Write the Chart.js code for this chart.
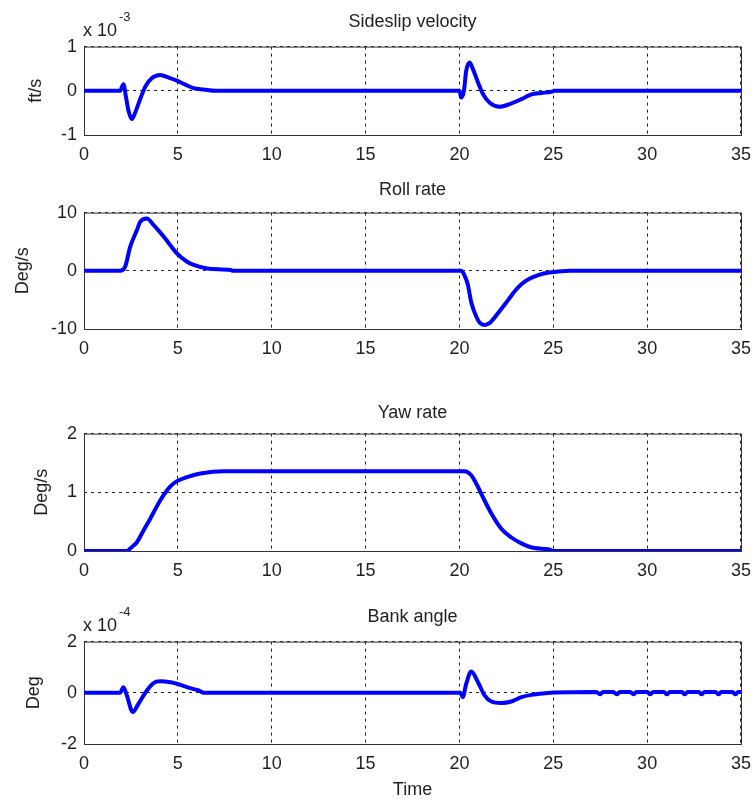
<!DOCTYPE html>
<html>
<head>
<meta charset="utf-8">
<script src="https://cdn.jsdelivr.net/npm/chart.js@4.4.1/dist/chart.umd.min.js"></script>
<style>
  html, body { margin: 0; padding: 0; background: #fff; }
  #page { position: relative; width: 756px; height: 803px; overflow: hidden; }
  #page canvas { position: absolute; left: 0; }
</style>
</head>
<body>
<div id="page">
  <canvas id="sideslipChart" width="760" height="170" style="top:0px"></canvas>
  <canvas id="rollChart" width="760" height="190" style="top:170px"></canvas>
  <canvas id="yawChart" width="760" height="221" style="top:360px"></canvas>
  <canvas id="bankChart" width="760" height="222" style="top:581px"></canvas>
</div>
<script>
// x axis (shared)
const timeTicks = [0, 5, 10, 15, 20, 25, 30, 35];

// Sideslip velocity, ft/s (x 10^-3)
const sideslipTime = [0, 1.92, 2.1, 2.24, 2.37, 2.55, 2.73, 2.99, 3.26, 3.62, 4.06, 4.51, 4.95, 5.4, 5.83, 6.38, 7.0,
  20.0, 20.1, 20.24, 20.36, 20.54, 20.72, 20.99, 21.26, 21.61, 22.14, 22.68, 23.3, 23.84, 24.37, 24.9, 25.08, 35];
const sideslipValue = [0, 0, 0.15, -0.15, -0.45, -0.64, -0.49, -0.19, 0.09, 0.29, 0.36, 0.3, 0.23, 0.14, 0.06, 0.03, 0,
  0, -0.15, 0, 0.45, 0.64, 0.49, 0.19, -0.08, -0.27, -0.36, -0.3, -0.19, -0.08, -0.05, -0.02, 0, 0];

// Roll rate, Deg/s
const rollTime = [0, 1.92, 2.19, 2.46, 2.82, 2.99, 3.35, 3.7, 4.24, 4.95, 5.49, 5.84, 6.56, 7.8, 7.95,
  20.1, 20.3, 20.45, 20.63, 20.9, 21.1, 21.35, 21.6, 22.05, 22.6, 23.0, 23.3, 23.7, 24.2, 24.7, 25.2, 25.9, 35];
const rollValue = [0, 0, 0.7, 4.1, 7.0, 8.4, 9.0, 7.9, 5.9, 3.0, 1.55, 1.0, 0.4, 0.15, 0,
  0, -1.0, -2.4, -5.4, -7.9, -9.0, -9.3, -9.0, -7.3, -5.0, -3.3, -2.3, -1.4, -0.75, -0.35, -0.15, 0, 0];

// Yaw rate, Deg/s
const yawTime = [0, 2.28, 2.55, 2.82, 3.17, 3.53, 3.88, 4.24, 4.6, 4.95, 5.49, 6.2, 7.45,
  20.27, 20.63, 20.99, 21.34, 21.7, 22.23, 22.77, 23.3, 24.0, 24.73, 25.0, 35];
const yawValue = [0, 0, 0.07, 0.15, 0.35, 0.55, 0.76, 0.95, 1.1, 1.19, 1.26, 1.32, 1.36,
  1.36, 1.29, 1.09, 0.86, 0.64, 0.38, 0.23, 0.13, 0.05, 0.03, 0, 0];

// Bank angle, Deg (x 10^-4)
const bankTime = [0, 1.92, 2.1, 2.28, 2.6, 2.9, 3.35, 3.7, 4.06, 4.6, 5.13, 5.67, 6.11, 6.38,
  20.05, 20.18, 20.36, 20.63, 20.99, 21.34, 21.7, 22.23, 22.77, 23.3, 23.84, 24.55, 25.08,
  27.3, 27.49, 27.65, 28.2, 28.38, 28.54, 29.1, 29.27, 29.43, 30.0, 30.16, 30.32,
  30.9, 31.05, 31.2, 31.85, 32.0, 32.15, 32.75, 32.9, 33.05, 33.65, 33.8, 33.95, 34.55, 34.7, 34.85, 35];
const bankValue = [0, 0, 0.22, -0.1, -0.75, -0.43, 0.09, 0.38, 0.45, 0.41, 0.31, 0.18, 0.09, 0,
  0, -0.17, 0.35, 0.83, 0.41, -0.1, -0.34, -0.4, -0.34, -0.17, -0.08, -0.02, 0.01,
  0.03, -0.06, 0.03, 0.03, -0.06, 0.03, 0.03, -0.06, 0.03, 0.03, -0.06, 0.03,
  0.03, -0.06, 0.03, 0.03, -0.06, 0.03, 0.03, -0.06, 0.03, 0.03, -0.06, 0.03, 0.03, -0.06, 0.03, 0.03];

const LINE_BLUE = "#0000ff";
const TEXT = "#1f1f1f";
const FONT = "'Liberation Sans', Arial, sans-serif";

// box round the plot area, like MATLAB axes
const framePlugin = {
  id: "frame",
  beforeDatasetsDraw(chart) {
    const { ctx, chartArea: a } = chart;
    ctx.save();
    ctx.strokeStyle = "#333";
    ctx.lineWidth = 1;
    ctx.strokeRect(a.left + 0.5, a.top + 0.5, a.right - a.left, a.bottom - a.top);
    ctx.restore();
  },
};

// "x 10^-3" multiplier above the y axis
const exponentPlugin = {
  id: "exponent",
  afterDraw(chart, args, opts) {
    if (!opts.power) return;
    const { ctx, chartArea: a } = chart;
    ctx.save();
    ctx.fillStyle = TEXT;
    ctx.textAlign = "left";
    ctx.textBaseline = "alphabetic";
    ctx.font = `18px ${FONT}`;
    const base = "x 10";
    ctx.fillText(base, a.left - 1, a.top - 11);
    const w = ctx.measureText(base).width;
    ctx.font = `13px ${FONT}`;
    ctx.fillText(opts.power, a.left + w + 1, a.top - 26);
    ctx.restore();
  },
};

function makePanel(id, cfg) {
  const gridOpts = { color: "#222", lineWidth: 1, drawTicks: false };
  const tickFont = { family: FONT, size: 18 };
  return new Chart(document.getElementById(id), {
    type: "line",
    data: {
      datasets: [
        {
          data: cfg.time.map((t, i) => ({ x: t, y: cfg.values[i] })),
          borderColor: LINE_BLUE,
          borderWidth: 4,
          pointRadius: 0,
          cubicInterpolationMode: "monotone",
          borderJoinStyle: "round",
          borderCapStyle: "round",
          fill: false,
        },
      ],
    },
    options: {
      responsive: false,
      animation: false,
      devicePixelRatio: 1,
      layout: { padding: { left: 0, right: 15, top: 0, bottom: 0 } },
      plugins: {
        legend: { display: false },
        tooltip: { enabled: false },
        title: {
          display: true,
          text: cfg.title,
          color: TEXT,
          fullSize: false,
          font: { family: FONT, size: 18, weight: "normal" },
          padding: { top: cfg.titleTop, bottom: cfg.titleBottom },
        },
        exponent: { power: cfg.power },
      },
      scales: {
        x: {
          type: "linear",
          min: 0,
          max: 35,
          afterBuildTicks: (scale) => { scale.ticks = timeTicks.map((v) => ({ value: v })); },
          ticks: { color: TEXT, font: tickFont, padding: 9, maxRotation: 0, autoSkip: false },
          grid: gridOpts,
          border: { display: false, dash: [3, 4] },
          title: {
            display: !!cfg.xLabel,
            text: cfg.xLabel || "",
            color: TEXT,
            font: { family: FONT, size: 18 },
            padding: { top: 0, bottom: 2 },
          },
          afterFit: (scale) => { scale.height = cfg.xAxisHeight; },
        },
        y: {
          min: cfg.yMin,
          max: cfg.yMax,
          afterBuildTicks: (scale) => { scale.ticks = cfg.yTicks.map((v) => ({ value: v })); },
          ticks: { color: TEXT, font: tickFont, padding: 7 },
          grid: gridOpts,
          border: { display: false, dash: [3, 4] },
          title: {
            display: true,
            text: cfg.yLabel,
            color: TEXT,
            font: { family: FONT, size: 18 },
            padding: { top: cfg.yTitlePad, bottom: 0 },
          },
          afterFit: (scale) => { scale.width = 84; },
        },
      },
    },
    plugins: [framePlugin, exponentPlugin],
  });
}

makePanel("sideslipChart", {
  time: sideslipTime, values: sideslipValue, title: "Sideslip velocity", yLabel: "ft/s",
  yMin: -1, yMax: 1, yTicks: [-1, 0, 1], power: "-3",
  titleTop: 11, titleBottom: 14, xAxisHeight: 35, yTitlePad: 25,
});
makePanel("rollChart", {
  time: rollTime, values: rollValue, title: "Roll rate", yLabel: "Deg/s",
  yMin: -10, yMax: 10, yTicks: [-10, 0, 10],
  titleTop: 9, titleBottom: 12, xAxisHeight: 31, yTitlePad: 12,
});
makePanel("yawChart", {
  time: yawTime, values: yawValue, title: "Yaw rate", yLabel: "Deg/s",
  yMin: 0, yMax: 2, yTicks: [0, 1, 2],
  titleTop: 42, titleBottom: 10, xAxisHeight: 30, yTitlePad: 31,
});
makePanel("bankChart", {
  time: bankTime, values: bankValue, title: "Bank angle", yLabel: "Deg",
  yMin: -2, yMax: 2, yTicks: [-2, 0, 2], power: "-4", xLabel: "Time",
  titleTop: 25, titleBottom: 14, xAxisHeight: 59, yTitlePad: 23,
});
</script>
</body>
</html>
